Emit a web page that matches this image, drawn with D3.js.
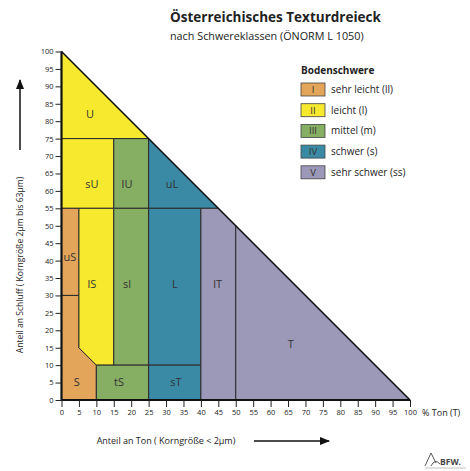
<!DOCTYPE html>
<html>
<head>
<meta charset="utf-8" />
<title>Österreichisches Texturdreieck</title>
<script src="https://cdn.jsdelivr.net/npm/d3@7"></script>
<style>
    body { margin: 0; background: #fff; }
    svg text { font-family: "Open Sans", "Noto Sans", sans-serif; fill: #222; }
</style>
</head>
<body>
<div id="chart"></div>
<script>
// Bodenschwere classes (legend)
var classIds = ["I", "II", "III", "IV", "V"];
var classNames = ["sehr leicht (ll)", "leicht (l)", "mittel (m)", "schwer (s)", "sehr schwer (ss)"];
var classColors = ["#e2a55a", "#f7e92e", "#86af64", "#3a8aa5", "#9c98b8"];

// texture classes: name, class index, polygon as [Ton %, Schluff %]
var texNames = ["U", "sU", "lU", "uL", "uS", "S", "lS", "sl", "tS", "L", "sT", "lT", "T"];
var texClass = [1, 1, 2, 3, 0, 0, 1, 2, 2, 3, 3, 4, 4];
var texPolys = [
    [[0, 75], [0, 100], [25, 75]],
    [[0, 55], [0, 75], [15, 75], [15, 55]],
    [[15, 55], [15, 75], [25, 75], [25, 55]],
    [[25, 55], [25, 75], [45, 55]],
    [[0, 30], [0, 55], [5, 55], [5, 30]],
    [[0, 0], [0, 30], [5, 30], [5, 15], [10, 10], [10, 0]],
    [[5, 15], [5, 55], [15, 55], [15, 10], [10, 10]],
    [[15, 10], [15, 55], [25, 55], [25, 10]],
    [[10, 0], [10, 10], [25, 10], [25, 0]],
    [[25, 10], [25, 55], [40, 55], [40, 10]],
    [[25, 0], [25, 10], [40, 10], [40, 0]],
    [[40, 0], [40, 55], [45, 55], [50, 50], [50, 0]],
    [[50, 0], [50, 50], [100, 0]]
];
var texLabelPos = [[8.2, 82], [8.7, 62], [18.8, 62], [31.7, 62], [2.4, 41], [4.4, 5.2], [8.7, 33.3], [18.8, 33.3], [16.5, 5.2], [32.5, 33.3], [32.8, 5.2], [44.8, 33.3], [65.8, 16]];

var ticks = d3.range(0, 101, 5);

var width = 470, height = 471;
var x = d3.scaleLinear().domain([0, 100]).range([61.5, 410]);
var y = d3.scaleLinear().domain([0, 100]).range([400, 51.5]);

var svg = d3.select("#chart").append("svg")
    .attr("width", width)
    .attr("height", height);

svg.append("defs").append("marker")
    .attr("id", "arr")
    .attr("viewBox", "0 0 10 10")
    .attr("refX", 9).attr("refY", 5)
    .attr("markerWidth", 10).attr("markerHeight", 10)
    .attr("markerUnits", "userSpaceOnUse")
    .attr("orient", "auto")
    .append("path").attr("d", "M0,1 L10,5 L0,9 Z").attr("fill", "#111");

// title
svg.append("text").attr("x", 170).attr("y", 22)
    .style("font-size", "13.5px").style("font-weight", "bold")
    .text("Österreichisches Texturdreieck");
svg.append("text").attr("x", 170).attr("y", 40)
    .style("font-size", "10.8px")
    .text("nach Schwereklassen (ÖNORM L 1050)");

var line = d3.line().x(function(d) { return x(d[0]); }).y(function(d) { return y(d[1]); });

svg.selectAll(".tex")
    .data(texPolys)
    .enter().append("path")
    .attr("class", "tex")
    .attr("d", function(d) { return line(d) + "Z"; })
    .attr("fill", function(d, i) { return classColors[texClass[i]]; })
    .attr("stroke", "#2a2a2a")
    .attr("stroke-width", 1);

svg.selectAll(".texlab")
    .data(texNames)
    .enter().append("text")
    .attr("x", function(d, i) { return x(texLabelPos[i][0]); })
    .attr("y", function(d, i) { return y(texLabelPos[i][1]); })
    .attr("text-anchor", "middle")
    .attr("dy", "0.35em")
    .style("font-size", "11px")
    .style("fill", "#333")
    .text(function(d) { return d; });

// triangle outline
svg.append("path")
    .attr("d", line([[0, 100], [100, 0]]))
    .attr("stroke", "#111").attr("stroke-width", 1.6).attr("fill", "none");
svg.append("path")
    .attr("d", line([[0, 100], [0, 0], [100, 0]]))
    .attr("stroke", "#111").attr("stroke-width", 2.2).attr("fill", "none");

// axes
var yAxis = d3.axisLeft(y).tickValues(ticks).tickSize(6).tickPadding(2);
var xAxis = d3.axisBottom(x).tickValues(ticks).tickSize(7).tickPadding(3);
var gy = svg.append("g").attr("transform", "translate(" + x(0) + ",0)").call(yAxis);
var gx = svg.append("g").attr("transform", "translate(0," + y(0) + ")").call(xAxis);
[gy, gx].forEach(function(g) {
    g.select(".domain").remove();
    g.selectAll("line").attr("stroke", "#222");
    g.selectAll("text").style("font-size", "7.5px").style("font-family", "'Open Sans', sans-serif").attr("fill", "#333");
});

svg.append("text").attr("x", 422).attr("y", 416)
    .style("font-size", "9px").text("% Ton (T)");

// axis titles with arrows
svg.append("text")
    .attr("transform", "translate(23,265) rotate(-90)")
    .attr("text-anchor", "middle")
    .style("font-size", "8.6px")
    .text("Anteil an Schluff ( Korngröße 2µm bis 63µm)");
svg.append("line").attr("x1", 20).attr("y1", 150).attr("x2", 20).attr("y2", 80)
    .attr("stroke", "#111").attr("stroke-width", 1.5).attr("marker-end", "url(#arr)");

svg.append("text")
    .attr("x", 166).attr("y", 444)
    .attr("text-anchor", "middle")
    .style("font-size", "9px")
    .text("Anteil an Ton ( Korngröße < 2µm)");
svg.append("line").attr("x1", 254).attr("y1", 441).attr("x2", 329).attr("y2", 441)
    .attr("stroke", "#111").attr("stroke-width", 1.5).attr("marker-end", "url(#arr)");

// legend
var lg = svg.append("g").attr("transform", "translate(301,0)");
lg.append("text").attr("x", 0).attr("y", 74)
    .style("font-size", "10px").style("font-weight", "bold")
    .text("Bodenschwere");
var items = lg.selectAll(".item")
    .data(classIds)
    .enter().append("g")
    .attr("class", "item")
    .attr("transform", function(d, i) { return "translate(0," + (83 + i * 20.7) + ")"; });
items.append("rect")
    .attr("width", 24).attr("height", 13)
    .attr("fill", function(d, i) { return classColors[i]; })
    .attr("stroke", "#444").attr("stroke-width", 0.8);
items.append("text")
    .attr("x", 12).attr("y", 6.5).attr("dy", "0.35em")
    .attr("text-anchor", "middle")
    .style("font-size", "9.5px").style("fill", "#333")
    .text(function(d) { return d; });
items.append("text")
    .attr("x", 30).attr("y", 6.5).attr("dy", "0.35em")
    .style("font-size", "10px")
    .text(function(d, i) { return classNames[i]; });

// small logo
var logo = svg.append("g").attr("transform", "translate(430,452)");
logo.append("path")
    .attr("d", "M-5,14 L1,1 L6,11 M1,14 Q5,6 10,12")
    .attr("fill", "none").attr("stroke", "#444").attr("stroke-width", 0.9);
logo.append("text").attr("x", 10).attr("y", 13)
    .style("font-size", "8.5px").style("font-weight", "bold").style("fill", "#444").text("BFW.");
logo.append("line").attr("x1", -5).attr("y1", 16).attr("x2", 36).attr("y2", 16)
    .attr("stroke", "#999").attr("stroke-width", 0.6);
</script>
</body>
</html>
